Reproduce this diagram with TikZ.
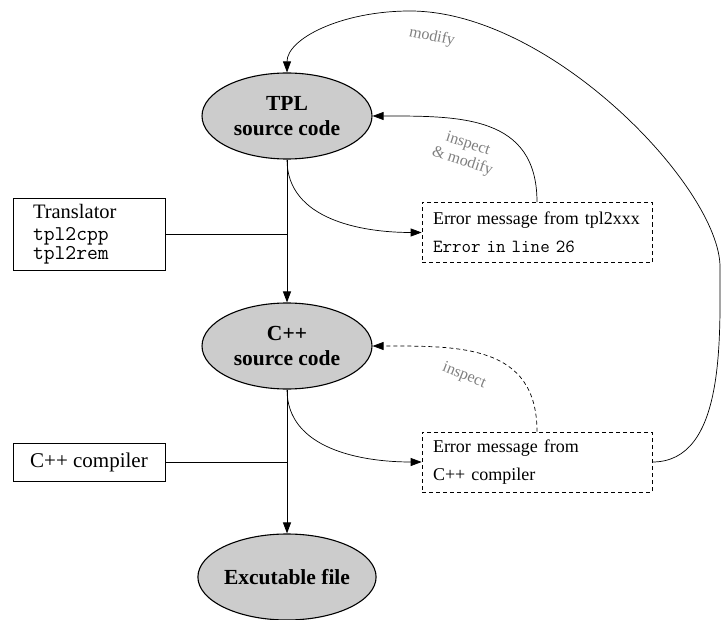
\documentclass[tikz,border=0pt]{standalone}
\usepackage{fontspec}
\setmainfont{Liberation Serif}
\usetikzlibrary{shapes.geometric,arrows.meta}

\tikzset{
  prog/.style={ellipse, draw, line width=1.1pt, fill=gray!40, minimum width=170pt, minimum height=86pt,
    inner sep=0pt, align=center, font=\fontsize{21.5}{25}\selectfont\bfseries},
  tool/.style={rectangle, draw, line width=0.7pt, minimum width=152pt},
  errbox/.style={rectangle, draw, line width=0.7pt, dash pattern=on 4pt off 3pt, minimum width=230pt,
    minimum height=60pt, text width=208pt, inner xsep=11pt, align=left, font=\fontsize{18}{28}\selectfont},
  lbl/.style={text=gray, font=\fontsize{16}{18}\selectfont, align=center},
  flow/.style={line width=1pt, -{Triangle[length=11pt,width=8pt]}},
  back/.style={line width=0.7pt, -{Triangle[length=11pt,width=8pt]}},
}

\begin{document}
\begin{tikzpicture}[x=1pt,y=-1pt]
  \useasboundingbox (0,0) rectangle (722,620);

  % programs
  \node[prog] (tpl) at (287,116) {TPL\\source code};
  \node[prog] (cpp) at (287,346) {C++\\source code};
  \node[prog] (exe) at (287,577) {Excutable file};

  % tools on the left
  \node[tool, minimum height=72pt, text width=112pt, inner xsep=20pt, align=left] (trans) at (89,234)
    {\fontsize{20.5}{24}\selectfont Translator\\[2pt]
     \fontsize{21}{20}\selectfont\ttfamily tpl2cpp\\tpl2rem};
  \node[tool, minimum height=38pt, font=\fontsize{21}{24}\selectfont] (comp) at (89,462) {C++ compiler};

  % error messages
  \node[errbox] (err1) at (537,232.5)
    {Error message from tpl2xxx\\{\fontsize{18.5}{28}\selectfont\ttfamily Error in line 26}};
  \node[errbox] (err2) at (537,462) {Error message from\\C++ compiler};

  \coordinate (jt) at (trans.east -| tpl.south);
  \coordinate (jc) at (comp.east -| cpp.south);
  \coordinate (bend) at (720,267);
  \coordinate (top) at (410,11);

  % main flow
  \draw[flow] (tpl) -- (cpp);
  \draw[flow] (cpp) -- (exe);
  \draw[line width=0.7pt] (trans) -- (jt);
  \draw[line width=0.7pt] (comp) -- (jc);

  % errors
  \draw[back] (tpl.south) to[out=-90,in=180] (err1.west);
  \draw[back] (cpp.south) to[out=-90,in=180] (err2.west);
  \draw[back] (err1.north) to[out=90,in=0,looseness=1.2] (tpl.east);
  \draw[back, dash pattern=on 4pt off 3pt] (err2.north) to[out=90,in=0,looseness=1.2] (cpp.east);
  \draw[back] (err2.east) to[out=0,in=-90,looseness=0.9] (bend)
    to[out=90,in=0,out looseness=0.5,in looseness=0.9] (top)
    .. controls +(-68,0) and +(0,-34) .. (tpl.north);

  % labels
  \node[lbl, rotate=-18] (lblim) at (465,153) {inspect\\\& modify};
  \node[lbl, rotate=-22] (lbli) at (464,376) {inspect};
  \node[lbl, rotate=-12] (lblm) at (432,37) {modify};
\end{tikzpicture}
\end{document}
